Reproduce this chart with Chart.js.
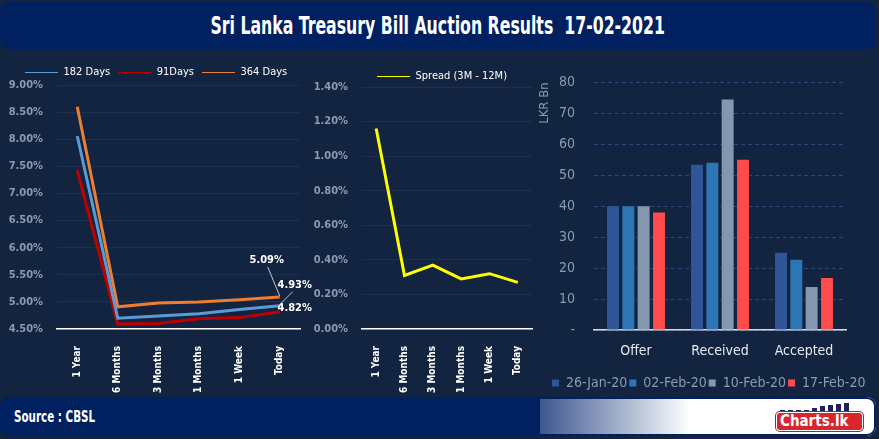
<!DOCTYPE html>
<html>
<head>
<meta charset="utf-8">
<title>Sri Lanka Treasury Bill Auction Results</title>
<script src="https://cdn.jsdelivr.net/npm/chart.js@4.4.1/dist/chart.umd.min.js"></script>
<style>
  body { margin: 0; width: 879px; height: 439px; background: #12243f; position: relative; overflow: hidden; }
  .header { position: absolute; left: 0; top: 2px; width: 876px; height: 47px; background: #002060; border-radius: 9px;
            display: flex; align-items: center; justify-content: center; }
  .header span { display: inline-block; color: #fff; white-space: pre; transform: scaleX(0.7);
                 font: bold 25px 'DejaVu Sans Condensed', sans-serif; }
  canvas { position: absolute; }
  #trendChart { left: 0; top: 59px; z-index: 2; }
  #spreadChart { left: 305px; top: 63px; z-index: 1; }
  #auctionChart { left: 535px; top: 55px; }
  .footer { position: absolute; left: 0; top: 397px; width: 876px; height: 39px; border-radius: 9px; z-index: 3;
            background: linear-gradient(90deg, #002060 0px, #002060 540px, #3d5890 540px, #ffffff 690px, #ffffff 100%);
            box-shadow: inset 0 0 0 2px #002060; }
  .source { position: absolute; left: 14px; top: 10px; color: #fff; transform: scaleX(0.72); transform-origin: left center;
            font: bold 16px 'DejaVu Sans Condensed', sans-serif; }
  .logo-bars { position: absolute; left: 780px; top: 402px; width: 80px; height: 11px; z-index: 4; }
  .logo-bars span { position: absolute; bottom: 0; width: 5px; background: #22205e; }
  .logo { position: absolute; left: 777px; top: 413px; width: 85px; height: 17px; background: #d9262c; border-radius: 3px; z-index: 4;
          box-shadow: 0 0 0 1px #ffffff, 0 0 0 2px #b81c22; color: #fff; padding-left: 3px; box-sizing: border-box;
          font: bold 15px 'DejaVu Sans Condensed', sans-serif; line-height: 17px; }
</style>
</head>
<body>
<div class="header"><span>Sri Lanka Treasury Bill Auction Results  17-02-2021</span></div>
<canvas id="trendChart" width="330" height="340"></canvas>
<canvas id="spreadChart" width="235" height="336"></canvas>
<canvas id="auctionChart" width="341" height="345"></canvas>
<div class="footer"><div class="source">Source : CBSL</div></div>
<div class="logo-bars">
  <span style="left:0;height:3px"></span><span style="left:8px;height:3px"></span><span style="left:16px;height:3px"></span>
  <span style="left:24px;height:3px"></span><span style="left:32px;height:5px"></span><span style="left:40px;height:7px"></span>
  <span style="left:48px;height:8px"></span><span style="left:56px;height:9px"></span><span style="left:64px;height:10px"></span>
</div>
<div class="logo">Charts.lk</div>
<script>
// Treasury bill yields (%)
const periods = ['1 Year', '6 Months', '3 Months', '1 Months', '1 Week', 'Today'];
const days182 = [8.06, 4.70, 4.74, 4.78, 4.86, 4.93];
const days91 = [7.43, 4.59, 4.60, 4.69, 4.71, 4.82];
const days364 = [8.60, 4.91, 4.98, 5.00, 5.04, 5.09];
const spread = [1.16, 0.31, 0.37, 0.29, 0.32, 0.27];

// Auction amounts (LKR Bn)
const auctionItems = ['Offer', 'Received', 'Accepted'];
const jan26 = [40, 53.4, 25.0];
const feb02 = [40, 54.0, 22.7];
const feb10 = [40, 74.5, 13.9];
const feb17 = [38, 55.0, 16.8];

const cond = "'DejaVu Sans Condensed', sans-serif";

// pin the legend: fixed height and first item starting at x0
function placeLegend(h, x0) {
  return {
    id: 'placeLegend',
    afterInit(chart) {
      const fit = chart.legend.fit;
      chart.legend.fit = function () { fit.call(this); this.height = h; };
    },
    afterLayout(chart) {
      const lg = chart.legend;
      const shift = x0 - (lg.left + lg.options.labels.padding);
      lg.left += shift;
      lg.right += shift + 60;
    }
  };
}

// value labels on the last point of each yield line
const lastLabels = {
  id: 'lastLabels',
  afterDatasetsDraw(chart) {
    const ctx = chart.ctx;
    const shifts = [[15, -21], [15, -4], [-13, -37]];
    ctx.save();
    ctx.font = 'bold 11px ' + cond;
    ctx.textAlign = 'center';
    ctx.textBaseline = 'middle';
    chart.data.datasets.forEach((ds, i) => {
      const pt = chart.getDatasetMeta(i).data[ds.data.length - 1];
      const [dx, dy] = shifts[i];
      const tx = pt.x + dx, ty = pt.y + dy;
      if (Math.abs(dy) > 10) {
        ctx.strokeStyle = '#bfc5cf';
        ctx.lineWidth = 1;
        ctx.beginPath();
        ctx.moveTo(pt.x, pt.y - 1);
        ctx.lineTo(tx + (dx > 0 ? -2 : 1), ty + 7);
        ctx.stroke();
      }
      ctx.fillStyle = '#ffffff';
      ctx.fillText(ds.data[ds.data.length - 1].toFixed(2) + '%', tx, ty);
    });
    ctx.restore();
  }
};

const periodAxis = {
  offset: true,
  grid: { display: false },
  border: { color: '#ffffff', width: 1.5 },
  ticks: { color: '#ffffff', font: { family: cond, size: 10, weight: 'bold' }, minRotation: 90, maxRotation: 90, padding: 9 },
  afterFit: s => { s.height = 70; }
};

const pctAxis = (min, max, step) => ({
  min: min, max: max,
  ticks: { stepSize: step, callback: v => v.toFixed(2) + '%', color: '#8a9ab3', font: { family: cond, size: 11, weight: 'bold' }, padding: 14 },
  grid: { color: '#1c3152', drawTicks: false },
  border: { display: false },
  afterFit: s => { s.width = 57; }
});

const lineLegend = {
  align: 'start',
  labels: { usePointStyle: true, pointStyle: 'line', pointStyleWidth: 33, padding: 8, color: '#ffffff', font: { family: cond, size: 11 } }
};

new Chart(document.getElementById('trendChart'), {
  type: 'line',
  data: {
    labels: periods,
    datasets: [
      { label: '182 Days', data: days182, borderColor: '#5b9bd5', backgroundColor: '#5b9bd5' },
      { label: '91Days', data: days91, borderColor: '#c00000', backgroundColor: '#c00000' },
      { label: '364 Days', data: days364, borderColor: '#ed7d31', backgroundColor: '#ed7d31' }
    ]
  },
  options: {
    responsive: false,
    animation: false,
    layout: { padding: { left: 0, right: 30, top: 0, bottom: 0 } },
    elements: { line: { borderWidth: 3, tension: 0 }, point: { radius: 0 } },
    plugins: { legend: lineLegend, tooltip: { enabled: false } },
    scales: { x: periodAxis, y: pctAxis(4.5, 9, 0.5) }
  },
  plugins: [placeLegend(26, 25), lastLabels]
});

new Chart(document.getElementById('spreadChart'), {
  type: 'line',
  data: {
    labels: periods,
    datasets: [
      { label: 'Spread (3M - 12M)', data: spread, borderColor: '#ffff00', backgroundColor: '#ffff00' }
    ]
  },
  options: {
    responsive: false,
    animation: false,
    layout: { padding: { left: 0, right: 8, top: 0, bottom: 0 } },
    elements: { line: { borderWidth: 3, tension: 0 }, point: { radius: 0 } },
    plugins: { legend: lineLegend, tooltip: { enabled: false } },
    scales: { x: periodAxis, y: pctAxis(0, 1.4, 0.2) }
  },
  plugins: [placeLegend(24, 72)]
});

new Chart(document.getElementById('auctionChart'), {
  type: 'bar',
  data: {
    labels: auctionItems,
    datasets: [
      { label: '26-Jan-20', data: jan26, backgroundColor: '#2f5597' },
      { label: '02-Feb-20', data: feb02, backgroundColor: '#2e75b6' },
      { label: '10-Feb-20', data: feb10, backgroundColor: '#8497b0' },
      { label: '17-Feb-20', data: feb17, backgroundColor: '#ff4b4b' }
    ]
  },
  options: {
    responsive: false,
    animation: false,
    datasets: { bar: { categoryPercentage: 0.73, barPercentage: 0.78 } },
    layout: { padding: { left: 0, right: 30, top: 22, bottom: 0 } },
    plugins: {
      legend: { position: 'bottom', align: 'start', labels: { boxWidth: 7, boxHeight: 7, padding: 2, color: '#8a9bb5', font: { family: cond, size: 14 } } },
      tooltip: { enabled: false }
    },
    scales: {
      x: {
        grid: { display: false },
        border: { color: '#d9dee6', width: 1.5 },
        ticks: { color: '#e6ebf2', font: { family: cond, size: 14 }, padding: 5 },
        afterFit: s => { s.height = 44; }
      },
      y: {
        min: 0, max: 80,
        ticks: { stepSize: 10, callback: v => v === 0 ? '-' : v, color: '#8a9bb5', font: { family: cond, size: 14 }, padding: 19 },
        grid: { color: '#2b4a7c', drawTicks: false },
        border: { display: false, dash: [4, 3] },
        title: { display: true, text: 'LKR Bn', align: 'end', color: '#8a9bb5', font: { family: cond, size: 13 }, padding: { top: 2, bottom: 0 } },
        afterFit: s => { s.width = 59; }
      }
    }
  },
  plugins: [placeLegend(26, 17)]
});
</script>
</body>
</html>
